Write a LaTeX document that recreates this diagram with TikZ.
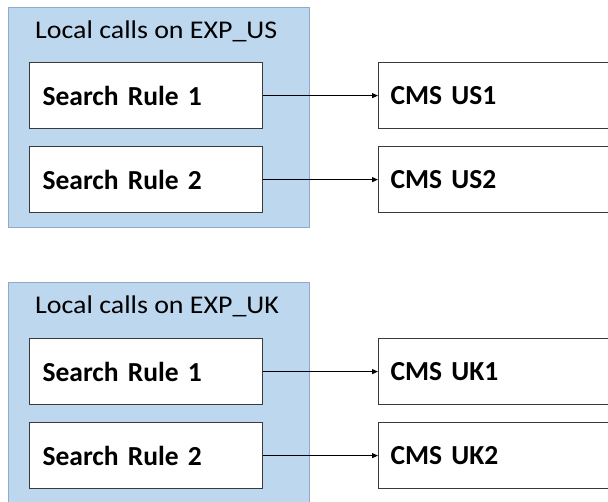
\documentclass[tikz,border=0pt]{standalone}
\usepackage{fontspec}
\setmainfont{Carlito}
\newfontfamily\titlefont{Carlito}[FakeStretch=1.095]
\usetikzlibrary{arrows.meta}
\definecolor{grpfill}{HTML}{BDD7EE}
\definecolor{grpline}{HTML}{8FAACC}
\definecolor{boxline}{HTML}{3A3A3A}
\begin{document}
\begin{tikzpicture}[x=1pt,y=-1pt,
  grp/.style={draw=grpline, fill=grpfill, line width=1pt, inner sep=0pt, anchor=north west},
  grptitle/.style={anchor=base west, inner sep=0pt, font=\titlefont\fontsize{25.5}{30}\selectfont},
  rulebox/.style={draw=boxline, fill=white, line width=1.2pt, anchor=north west,
    inner xsep=13pt, inner ysep=0pt, text width=207pt, minimum height=66pt, align=left,
    font=\fontsize{27.5}{32}\selectfont\bfseries},
  cmsbox/.style={draw=boxline, fill=white, line width=1.2pt, anchor=north west,
    inner xsep=12pt, inner ysep=0pt, text width=216pt, minimum height=66pt, align=left,
    font=\fontsize{27.5}{32}\selectfont\bfseries},
  link/.style={draw=black, line width=1pt, -{Triangle[length=6pt,width=5pt]}}]
\clip (0,0) rectangle (608,502);
\fill[white] (0,0) rectangle (608,502);
% US group
\node[grp, minimum width=301pt, minimum height=220pt] (gus) at (8,7) {};
\node[grptitle] (tus) at (35,38.5) {Local calls on EXP\_US};
\node[rulebox] (sus1) at (29,62) {Search Rule 1};
\node[rulebox] (sus2) at (29,146) {Search Rule 2};
\node[cmsbox] (cus1) at (378,62) {CMS US1};
\node[cmsbox] (cus2) at (378,146) {CMS US2};
\draw[link] (sus1.east) -- (cus1.west);
\draw[link] (sus2.east) -- (cus2.west);
% UK group
\node[grp, minimum width=301pt, minimum height=230pt] (guk) at (8,282) {};
\node[grptitle] (tuk) at (35,314) {Local calls on EXP\_UK};
\node[rulebox] (suk1) at (29,338) {Search Rule 1};
\node[rulebox] (suk2) at (29,422) {Search Rule 2};
\node[cmsbox] (cuk1) at (378,338) {CMS UK1};
\node[cmsbox] (cuk2) at (378,422) {CMS UK2};
\draw[link] (suk1.east) -- (cuk1.west);
\draw[link] (suk2.east) -- (cuk2.west);
\end{tikzpicture}
\end{document}
